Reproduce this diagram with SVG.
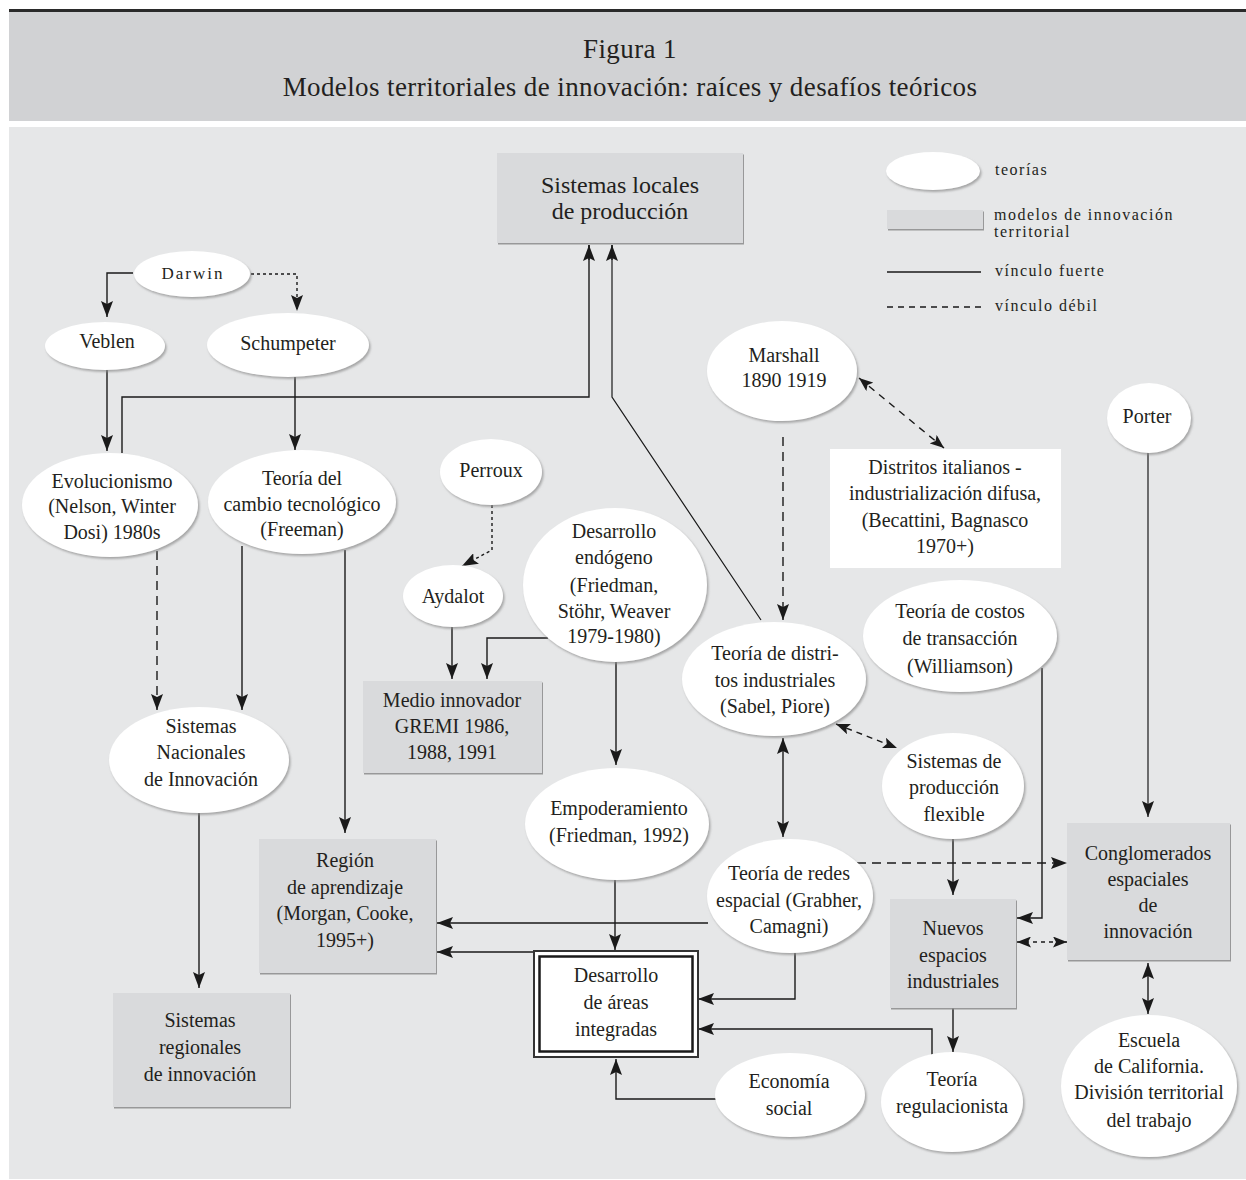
<svg xmlns="http://www.w3.org/2000/svg" width="1246" height="1180" viewBox="0 0 1246 1180">
  <style>
    .t { font-family: "Liberation Serif", "Times New Roman", serif; font-size: 20px; fill: #231f20; text-anchor: middle; }
    .small { font-size: 17px; letter-spacing: 2px; }
    .big { font-size: 24px; }
    .title { font-family: "Liberation Serif", "Times New Roman", serif; font-size: 27px; letter-spacing: 0.4px; fill: #231f20; text-anchor: middle; }
    .lg { font-family: "Liberation Serif", "Times New Roman", serif; font-size: 16px; letter-spacing: 1.5px; fill: #231f20; }
    .oval { fill: #ffffff; filter: url(#shadow); }
    .box { fill: #d9dadc; filter: url(#bshadow); }
    .wbox { fill: #ffffff; }
    .ln { fill: none; stroke: #1a1a1a; stroke-width: 1.4; }
    .thin { stroke-width: 1.2; }
    .dash { stroke-dasharray: 9 6; }
    .dot { stroke-dasharray: 3 3; }
    .arr { marker-end: url(#ah); }
    .arr2 { marker-start: url(#ah); marker-end: url(#ah); }
    .sarr2 { marker-start: url(#ahs); marker-end: url(#ahs); }
    .sarr { marker-end: url(#ahs); }
  </style>
  <defs>
    <filter id="shadow" x="-20%" y="-20%" width="140%" height="150%">
      <feDropShadow dx="1.5" dy="2" stdDeviation="1.2" flood-color="#8a8a8a" flood-opacity="0.7"/>
    </filter>
    <filter id="bshadow" x="-5%" y="-5%" width="110%" height="115%">
      <feDropShadow dx="1" dy="1.5" stdDeviation="0.6" flood-color="#909090" flood-opacity="0.9"/>
    </filter>
    <marker id="ah" viewBox="0 0 16 12" refX="16" refY="6" markerWidth="16" markerHeight="12" markerUnits="userSpaceOnUse" orient="auto-start-reverse">
      <path d="M0,0 L16,6 L0,12 L3,6 z" fill="#1a1a1a"/>
    </marker>
    <marker id="ahs" viewBox="0 0 14 11" refX="14" refY="5.5" markerWidth="14" markerHeight="11" markerUnits="userSpaceOnUse" orient="auto-start-reverse">
      <path d="M0,0 L14,5.5 L0,11 L3,5.5 z" fill="#1a1a1a"/>
    </marker>
  </defs>

  <!-- page and header -->
  <rect x="0" y="0" width="1246" height="1180" fill="#ffffff"/>
  <rect x="9" y="9" width="1237" height="3" fill="#2a2a2a"/>
  <rect x="9" y="12" width="1237" height="109" fill="#d1d2d4"/>
  <rect x="9" y="127" width="1237" height="1052" fill="#e6e7e8"/>
  <text class="title" x="630" y="58">Figura 1</text>
  <text class="title" x="630" y="96">Modelos territoriales de innovación: raíces y desafíos teóricos</text>

  <!-- legend -->
  <g id="legend">
    <ellipse class="oval" cx="933" cy="171" rx="47" ry="19"/>
    <text class="lg" x="995" y="175">teorías</text>
    <rect class="box" x="887" y="210" width="96" height="19"/>
    <text class="lg" x="994" y="220">modelos de innovación</text>
    <text class="lg" x="994" y="237">territorial</text>
    <line class="ln" x1="887" y1="272" x2="981" y2="272"/>
    <text class="lg" x="995" y="276">vínculo fuerte</text>
    <line class="ln dash" style="stroke-dasharray:6 5" x1="887" y1="307" x2="981" y2="307"/>
    <text class="lg" x="995" y="311">vínculo débil</text>
  </g>

  <!-- connectors -->
  <g id="connectors">
    <path class="ln arr" d="M133,273 H107 V317"/>
    <path class="ln dot arr" d="M251,274 H297 V311"/>
    <path class="ln arr" d="M107,370 V451"/>
    <path class="ln arr" d="M295,377 V450"/>
    <path class="ln" d="M122,453 V397 H589 V245"/>
    <path class="ln arr" d="M589,260 V245"/>
    <path class="ln thin" d="M761,620 L612,397 V245"/>
    <path class="ln arr" d="M612,260 V245"/>
    <path class="ln dash arr" d="M157,551 V710"/>
    <path class="ln arr" d="M242,546 V710"/>
    <path class="ln arr" d="M345,550 V833"/>
    <path class="ln arr" d="M199,813 V988"/>
    <path class="ln dot arr" d="M492,505 V550 L462,566"/>
    <path class="ln arr" d="M452,627 V679"/>
    <path class="ln arr" d="M548,638 H487 V679"/>
    <path class="ln arr" d="M616,662 V765"/>
    <path class="ln arr" d="M615,880 V950"/>
    <path class="ln arr" d="M708,923 H437"/>
    <path class="ln arr" d="M534,952 H437"/>
    <path class="ln arr" d="M795,953 V999 H698"/>
    <path class="ln arr" d="M932,1055 V1029 H698"/>
    <path class="ln arr" d="M716,1099 H616 V1059"/>
    <path class="ln dash arr" d="M783,437 V620"/>
    <path class="ln dash sarr2" style="stroke-dasharray:7 6" d="M859,378 L944,448"/>
    <path class="ln arr2" d="M783,738 V837"/>
    <path class="ln dash sarr2" style="stroke-dasharray:6 5" d="M836,724 L897,748"/>
    <path class="ln arr" d="M953,839 V895"/>
    <path class="ln arr" d="M1042,668 V918 H1017"/>
    <path class="ln dash arr" d="M857,863 H1067"/>
    <path class="ln sarr2" style="stroke-dasharray:4 4" d="M1017,942 H1067"/>
    <path class="ln arr" d="M953,1008 V1052"/>
    <path class="ln arr2" d="M1148,963 V1014"/>
    <path class="ln thin arr" d="M1148,452 V817"/>
  </g>

  <!-- territorial innovation models (boxes) -->
  <g id="n-sistemas-locales">
    <rect class="box" x="497" y="153" width="246" height="90"/>
    <text class="t big" x="620" y="193">Sistemas locales</text>
    <text class="t big" x="620" y="219">de producción</text>
  </g>
  <g id="n-medio-innovador">
    <rect class="box" x="363" y="681" width="179" height="92"/>
    <text class="t" x="452" y="707">Medio innovador</text>
    <text class="t" x="452" y="733">GREMI 1986,</text>
    <text class="t" x="452" y="759">1988, 1991</text>
  </g>
  <g id="n-region-aprendizaje">
    <rect class="box" x="259" y="839" width="177" height="134"/>
    <text class="t" x="345" y="867">Región</text>
    <text class="t" x="345" y="894">de aprendizaje</text>
    <text class="t" x="345" y="920">(Morgan, Cooke,</text>
    <text class="t" x="345" y="947">1995+)</text>
  </g>
  <g id="n-sistemas-regionales">
    <rect class="box" x="113" y="993" width="177" height="114"/>
    <text class="t" x="200" y="1027">Sistemas</text>
    <text class="t" x="200" y="1054">regionales</text>
    <text class="t" x="200" y="1081">de innovación</text>
  </g>
  <g id="n-desarrollo-areas">
    <rect x="534" y="951" width="164" height="106" fill="#ffffff" stroke="#333333" stroke-width="2"/>
    <rect x="539.5" y="956.5" width="153" height="95" fill="#ffffff" stroke="#1a1a1a" stroke-width="2.5"/>
    <text class="t" x="616" y="982">Desarrollo</text>
    <text class="t" x="616" y="1009">de áreas</text>
    <text class="t" x="616" y="1036">integradas</text>
  </g>
  <g id="n-distritos-italianos">
    <rect class="wbox" x="830" y="449" width="231" height="119"/>
    <text class="t" x="945" y="474">Distritos italianos -</text>
    <text class="t" x="945" y="500">industrialización difusa,</text>
    <text class="t" x="945" y="527">(Becattini, Bagnasco</text>
    <text class="t" x="945" y="553">1970+)</text>
  </g>
  <g id="n-nuevos-espacios">
    <rect class="box" x="890" y="899" width="126" height="109"/>
    <text class="t" x="953" y="935">Nuevos</text>
    <text class="t" x="953" y="962">espacios</text>
    <text class="t" x="953" y="988">industriales</text>
  </g>
  <g id="n-conglomerados">
    <rect class="box" x="1067" y="823" width="163" height="137"/>
    <text class="t" x="1148" y="860">Conglomerados</text>
    <text class="t" x="1148" y="886">espaciales</text>
    <text class="t" x="1148" y="912">de</text>
    <text class="t" x="1148" y="938">innovación</text>
  </g>

  <!-- theories (ovals) -->
  <g id="n-darwin">
    <ellipse class="oval" cx="192" cy="274" rx="58" ry="23"/>
    <text class="t small" x="193" y="279">Darwin</text>
  </g>
  <g id="n-veblen">
    <ellipse class="oval" cx="105" cy="346" rx="60" ry="24"/>
    <text class="t" x="107" y="348">Veblen</text>
  </g>
  <g id="n-schumpeter">
    <ellipse class="oval" cx="288" cy="345" rx="81" ry="32"/>
    <text class="t" x="288" y="350">Schumpeter</text>
  </g>
  <g id="n-evolucionismo">
    <ellipse class="oval" cx="110" cy="505" rx="88" ry="52"/>
    <text class="t" x="112" y="488">Evolucionismo</text>
    <text class="t" x="112" y="513">(Nelson, Winter</text>
    <text class="t" x="112" y="539">Dosi) 1980s</text>
  </g>
  <g id="n-cambio-tecnologico">
    <ellipse class="oval" cx="302" cy="502" rx="94" ry="52"/>
    <text class="t" x="302" y="485">Teoría del</text>
    <text class="t" x="302" y="511">cambio tecnológico</text>
    <text class="t" x="302" y="536">(Freeman)</text>
  </g>
  <g id="n-perroux">
    <ellipse class="oval" cx="491" cy="472" rx="51" ry="33"/>
    <text class="t" x="491" y="477">Perroux</text>
  </g>
  <g id="n-aydalot">
    <ellipse class="oval" cx="453" cy="596" rx="50" ry="31"/>
    <text class="t" x="453" y="603">Aydalot</text>
  </g>
  <g id="n-desarrollo-endogeno">
    <ellipse class="oval" cx="615" cy="585" rx="92" ry="77"/>
    <text class="t" x="614" y="538">Desarrollo</text>
    <text class="t" x="614" y="564">endógeno</text>
    <text class="t" x="614" y="592">(Friedman,</text>
    <text class="t" x="614" y="618">Stöhr, Weaver</text>
    <text class="t" x="614" y="643">1979-1980)</text>
  </g>
  <g id="n-marshall">
    <ellipse class="oval" cx="782" cy="371" rx="75" ry="50"/>
    <text class="t" x="784" y="362">Marshall</text>
    <text class="t" x="784" y="387">1890 1919</text>
  </g>
  <g id="n-porter">
    <ellipse class="oval" cx="1149" cy="418" rx="42" ry="35"/>
    <text class="t" x="1147" y="423">Porter</text>
  </g>
  <g id="n-costos-transaccion">
    <ellipse class="oval" cx="960" cy="636" rx="97" ry="56"/>
    <text class="t" x="960" y="618">Teoría de costos</text>
    <text class="t" x="960" y="645">de transacción</text>
    <text class="t" x="960" y="673">(Williamson)</text>
  </g>
  <g id="n-distritos-industriales">
    <ellipse class="oval" cx="774" cy="679" rx="92" ry="57"/>
    <text class="t" x="775" y="660">Teoría de distri-</text>
    <text class="t" x="775" y="687">tos industriales</text>
    <text class="t" x="775" y="713">(Sabel, Piore)</text>
  </g>
  <g id="n-produccion-flexible">
    <ellipse class="oval" cx="953" cy="786" rx="71" ry="53"/>
    <text class="t" x="954" y="768">Sistemas de</text>
    <text class="t" x="954" y="794">producción</text>
    <text class="t" x="954" y="821">flexible</text>
  </g>
  <g id="n-sistemas-nacionales">
    <ellipse class="oval" cx="199" cy="760" rx="90" ry="53"/>
    <text class="t" x="201" y="733">Sistemas</text>
    <text class="t" x="201" y="759">Nacionales</text>
    <text class="t" x="201" y="786">de Innovación</text>
  </g>
  <g id="n-empoderamiento">
    <ellipse class="oval" cx="617" cy="824" rx="92" ry="56"/>
    <text class="t" x="619" y="815">Empoderamiento</text>
    <text class="t" x="619" y="842">(Friedman, 1992)</text>
  </g>
  <g id="n-teoria-redes">
    <ellipse class="oval" cx="790" cy="896" rx="83" ry="57"/>
    <text class="t" x="789" y="880">Teoría de redes</text>
    <text class="t" x="789" y="907">espacial (Grabher,</text>
    <text class="t" x="789" y="933">Camagni)</text>
  </g>
  <g id="n-economia-social">
    <ellipse class="oval" cx="790" cy="1095" rx="75" ry="42"/>
    <text class="t" x="789" y="1088">Economía</text>
    <text class="t" x="789" y="1115">social</text>
  </g>
  <g id="n-regulacionista">
    <ellipse class="oval" cx="952" cy="1102" rx="71" ry="50"/>
    <text class="t" x="952" y="1086">Teoría</text>
    <text class="t" x="952" y="1113">regulacionista</text>
  </g>
  <g id="n-escuela-california">
    <ellipse class="oval" cx="1149" cy="1086" rx="88" ry="71"/>
    <text class="t" x="1149" y="1047">Escuela</text>
    <text class="t" x="1149" y="1073">de California.</text>
    <text class="t" x="1149" y="1099">División territorial</text>
    <text class="t" x="1149" y="1127">del trabajo</text>
  </g>
</svg>
